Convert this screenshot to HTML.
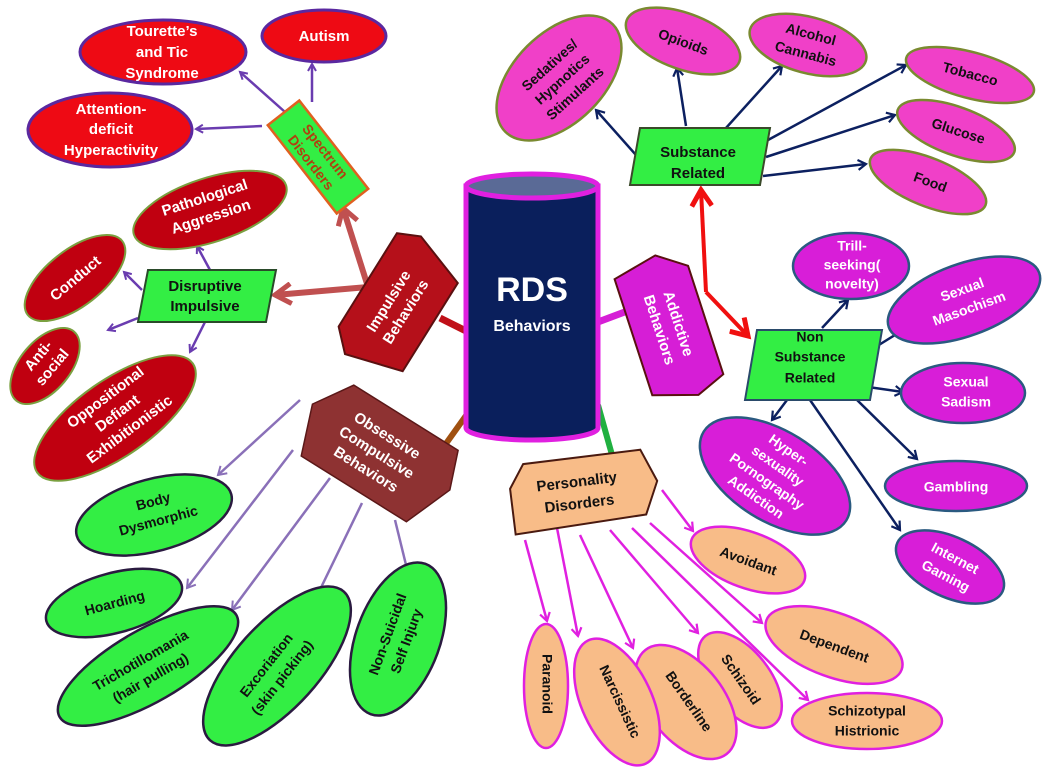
<!DOCTYPE html>
<html><head><meta charset="utf-8"><style>
html,body{margin:0;padding:0;background:#fff}
svg{display:block}
text{font-family:"Liberation Sans",sans-serif;font-weight:bold;text-anchor:middle;dominant-baseline:middle}
</style></head><body>
<svg width="1050" height="776" viewBox="0 0 1050 776" xmlns="http://www.w3.org/2000/svg">
<defs>
<marker id="mp" markerWidth="10" markerHeight="10" refX="8" refY="5" orient="auto" markerUnits="userSpaceOnUse"><path d="M1,1 L8,5 L1,9" fill="none" stroke="#6a3cb0" stroke-width="2"/></marker>
<marker id="ml" markerWidth="12" markerHeight="12" refX="9" refY="6" orient="auto" markerUnits="userSpaceOnUse"><path d="M1,1 L9,6 L1,11" fill="none" stroke="#8a70b8" stroke-width="2"/></marker>
<marker id="mn" markerWidth="12" markerHeight="12" refX="9" refY="6" orient="auto" markerUnits="userSpaceOnUse"><path d="M1,1 L9,6 L1,11" fill="none" stroke="#0c2060" stroke-width="2.2"/></marker>
<marker id="mm" markerWidth="12" markerHeight="12" refX="9" refY="6" orient="auto" markerUnits="userSpaceOnUse"><path d="M1,1 L9,6 L1,11" fill="none" stroke="#e020e0" stroke-width="2.2"/></marker>
<marker id="mr" markerWidth="24" markerHeight="24" refX="18" refY="12" orient="auto" markerUnits="userSpaceOnUse"><path d="M2,2 L18,12 L2,22" fill="none" stroke="#c05050" stroke-width="5"/></marker>
<marker id="mR" markerWidth="24" markerHeight="24" refX="18" refY="12" orient="auto" markerUnits="userSpaceOnUse"><path d="M2,2 L18,12 L2,22" fill="none" stroke="#f01010" stroke-width="5"/></marker>
</defs>

<!-- connectors from cylinder -->
<line x1="468" y1="332" x2="440" y2="318" stroke="#c01018" stroke-width="7"/>
<line x1="598" y1="322" x2="630" y2="310" stroke="#d61ed6" stroke-width="7"/>
<line x1="470" y1="410" x2="440" y2="452" stroke="#a05010" stroke-width="6"/>
<line x1="598" y1="405" x2="614" y2="462" stroke="#20b040" stroke-width="6"/>

<!-- Impulsive thick arrows -->
<line x1="368" y1="287" x2="275" y2="295" stroke="#c05050" stroke-width="6" marker-end="url(#mr)"/>
<line x1="368" y1="287" x2="343" y2="208" stroke="#c05050" stroke-width="6" marker-end="url(#mr)"/>

<!-- Spectrum arrows -->
<line x1="285" y1="112" x2="240" y2="72" stroke="#6a3cb0" stroke-width="2.5" marker-end="url(#mp)"/>
<line x1="312" y1="102" x2="312" y2="64" stroke="#6a3cb0" stroke-width="2.5" marker-end="url(#mp)"/>
<line x1="262" y1="126" x2="196" y2="129" stroke="#6a3cb0" stroke-width="2.5" marker-end="url(#mp)"/>
<!-- Disruptive arrows -->
<line x1="210" y1="270" x2="197" y2="246" stroke="#6a3cb0" stroke-width="2.5" marker-end="url(#mp)"/>
<line x1="142" y1="290" x2="124" y2="272" stroke="#6a3cb0" stroke-width="2.5" marker-end="url(#mp)"/>
<line x1="138" y1="318" x2="108" y2="330" stroke="#6a3cb0" stroke-width="2.5" marker-end="url(#mp)"/>
<line x1="205" y1="322" x2="190" y2="352" stroke="#6a3cb0" stroke-width="2.5" marker-end="url(#mp)"/>

<!-- OCD arrows -->
<line x1="300" y1="400" x2="218" y2="475" stroke="#8a70b8" stroke-width="2.5" marker-end="url(#ml)"/>
<line x1="293" y1="450" x2="187" y2="588" stroke="#8a70b8" stroke-width="2.5" marker-end="url(#ml)"/>
<line x1="330" y1="478" x2="232" y2="610" stroke="#8a70b8" stroke-width="2.5" marker-end="url(#ml)"/>
<line x1="362" y1="503" x2="315" y2="600" stroke="#8a70b8" stroke-width="2.5" marker-end="url(#ml)"/>
<line x1="395" y1="520" x2="408" y2="573" stroke="#8a70b8" stroke-width="2.5" marker-end="url(#ml)"/>

<!-- Personality arrows -->
<line x1="525" y1="540" x2="547" y2="621" stroke="#e020e0" stroke-width="2.5" marker-end="url(#mm)"/>
<line x1="557" y1="528" x2="578" y2="636" stroke="#e020e0" stroke-width="2.5" marker-end="url(#mm)"/>
<line x1="580" y1="535" x2="633" y2="648" stroke="#e020e0" stroke-width="2.5" marker-end="url(#mm)"/>
<line x1="610" y1="530" x2="698" y2="633" stroke="#e020e0" stroke-width="2.5" marker-end="url(#mm)"/>
<line x1="632" y1="528" x2="808" y2="700" stroke="#e020e0" stroke-width="2.5" marker-end="url(#mm)"/>
<line x1="650" y1="523" x2="762" y2="623" stroke="#e020e0" stroke-width="2.5" marker-end="url(#mm)"/>
<line x1="662" y1="490" x2="693" y2="531" stroke="#e020e0" stroke-width="2.5" marker-end="url(#mm)"/>

<!-- Substance arrows -->
<line x1="636" y1="155" x2="596" y2="110" stroke="#0c2060" stroke-width="2.5" marker-end="url(#mn)"/>
<line x1="686" y1="126" x2="677" y2="68" stroke="#0c2060" stroke-width="2.5" marker-end="url(#mn)"/>
<line x1="726" y1="128" x2="782" y2="66" stroke="#0c2060" stroke-width="2.5" marker-end="url(#mn)"/>
<line x1="768" y1="140" x2="906" y2="65" stroke="#0c2060" stroke-width="2.5" marker-end="url(#mn)"/>
<line x1="766" y1="157" x2="895" y2="115" stroke="#0c2060" stroke-width="2.5" marker-end="url(#mn)"/>
<line x1="763" y1="176" x2="866" y2="164" stroke="#0c2060" stroke-width="2.5" marker-end="url(#mn)"/>
<!-- Non-substance arrows -->
<line x1="822" y1="328" x2="848" y2="300" stroke="#0c2060" stroke-width="2.5" marker-end="url(#mn)"/>
<line x1="874" y1="348" x2="903" y2="330" stroke="#0c2060" stroke-width="2.5" marker-end="url(#mn)"/>
<line x1="868" y1="387" x2="903" y2="392" stroke="#0c2060" stroke-width="2.5" marker-end="url(#mn)"/>
<line x1="787" y1="400" x2="772" y2="420" stroke="#0c2060" stroke-width="2.5" marker-end="url(#mn)"/>
<line x1="855" y1="398" x2="917" y2="459" stroke="#0c2060" stroke-width="2.5" marker-end="url(#mn)"/>
<line x1="810" y1="400" x2="900" y2="530" stroke="#0c2060" stroke-width="2.5" marker-end="url(#mn)"/>

<!-- Red arrows -->
<line x1="706" y1="292" x2="701" y2="190" stroke="#f01010" stroke-width="4" marker-end="url(#mR)"/>
<line x1="706" y1="292" x2="748" y2="336" stroke="#f01010" stroke-width="4" marker-end="url(#mR)"/>

<!-- Cylinder -->
<path d="M466,186 L466,428 A66,12 0 0 0 598,428 L598,186 Z" fill="#0a1f5c" stroke="#e020e0" stroke-width="5"/>
<ellipse cx="532" cy="186" rx="66" ry="12" fill="#5a6a96" stroke="#e020e0" stroke-width="5"/>
<text x="532" y="292" fill="#fff" font-size="34">RDS</text>
<text x="532" y="327" fill="#fff" font-size="16">Behaviors</text>

<!-- Red ellipses (spectrum) -->
<g stroke="#5a28a0" stroke-width="3" fill="#ee0a14">
<ellipse cx="163" cy="52" rx="83" ry="32"/>
<ellipse cx="324" cy="36" rx="62" ry="26"/>
<ellipse cx="110" cy="130" rx="82" ry="37"/>
</g>
<g fill="#fff" font-size="15">
<text x="162" y="32">Tourette’s</text><text x="162" y="53">and Tic</text><text x="162" y="74">Syndrome</text>
<text x="324" y="37">Autism</text>
<text x="111" y="110">Attention-</text><text x="111" y="130">deficit</text><text x="111" y="151">Hyperactivity</text>
</g>

<!-- Spectrum disorders box -->
<g transform="translate(318,157) rotate(52)">
<rect x="-56" y="-20" width="112" height="40" fill="#33ee44" stroke="#e06020" stroke-width="2.5"/>
<text x="0" y="-8" fill="#b04010" font-size="14">Spectrum</text>
<text x="0" y="10" fill="#b04010" font-size="14">Disorders</text>
</g>

<!-- Dark red ellipses -->
<g stroke="#7aa040" stroke-width="2" fill="#c00010">
<ellipse cx="210" cy="210" rx="80" ry="32" transform="rotate(-18 210 210)"/>
<ellipse cx="75" cy="278" rx="60" ry="28" transform="rotate(-38 75 278)"/>
<ellipse cx="45" cy="366" rx="45" ry="25" transform="rotate(-50 45 366)"/>
<ellipse cx="115" cy="418" rx="95" ry="38" transform="rotate(-35 115 418)"/>
</g>
<g fill="#fff" font-size="15">
<g transform="translate(208,208) rotate(-18)"><text y="-10">Pathological</text><text y="10">Aggression</text></g>
<text x="76" y="279" transform="rotate(-40 76 279)">Conduct</text>
<g transform="translate(46,362) rotate(-50)"><text y="-9">Anti-</text><text y="9">social</text></g>
<g transform="translate(118,414) rotate(-37)"><text y="-20">Oppositional</text><text y="0">Defiant</text><text y="20">Exhibitionistic</text></g>
</g>

<!-- Disruptive impulsive -->
<polygon points="148,270 276,270 266,322 138,322" fill="#33ee44" stroke="#2a4a2a" stroke-width="2"/>
<text x="205" y="287" font-size="15" fill="#111">Disruptive</text>
<text x="205" y="307" font-size="15" fill="#111">Impulsive</text>

<!-- Impulsive Behaviors hexagon -->
<g transform="translate(398,307) rotate(-58)">
<polygon points="-68,-20 -48,-40 62,-40 72,-18 52,38 -52,38" fill="#b5101a" stroke="#5a1010" stroke-width="2"/>
<text x="0" y="-10" fill="#fff" font-size="15">Impulsive</text>
<text x="0" y="10" fill="#fff" font-size="15">Behaviors</text>
</g>

<!-- OCD hexagon -->
<g transform="translate(375,455) rotate(32)">
<polygon points="-80,-10 -55,-48 68,-48 82,-10 62,40 -62,40" fill="#8e3232" stroke="#5a1818" stroke-width="1.5"/>
<text x="0" y="-22" fill="#fff" font-size="15">Obsessive</text>
<text x="0" y="-2" fill="#fff" font-size="15">Compulsive</text>
<text x="0" y="18" fill="#fff" font-size="15">Behaviors</text>
</g>

<!-- Green ellipses -->
<g stroke="#2a1a40" stroke-width="2.5" fill="#33ee44">
<ellipse cx="154" cy="515" rx="80" ry="36" transform="rotate(-15 154 515)"/>
<ellipse cx="114" cy="603" rx="70" ry="30" transform="rotate(-15 114 603)"/>
<ellipse cx="148" cy="666" rx="102" ry="36" transform="rotate(-30 148 666)"/>
<ellipse cx="277" cy="666" rx="100" ry="42" transform="rotate(-48 277 666)"/>
<ellipse cx="398" cy="639" rx="42" ry="80" transform="rotate(20 398 639)"/>
</g>
<g fill="#111" font-size="14">
<g transform="translate(156,512) rotate(-15)"><text y="-10">Body</text><text y="10">Dysmorphic</text></g>
<text x="115" y="604" transform="rotate(-15 115 604)">Hoarding</text>
<g transform="translate(146,670) rotate(-30)"><text y="-10">Trichotillomania</text><text y="10">(hair pulling)</text></g>
<g transform="translate(275,672) rotate(-52)"><text y="-10">Excoriation</text><text y="10">(skin picking)</text></g>
<g transform="translate(398,638) rotate(-70)"><text y="-10">Non-Suicidal</text><text y="10">Self Injury</text></g>
</g>

<!-- Personality hexagon -->
<g transform="translate(583,492) rotate(-7)">
<polygon points="-72,-12 -56,-35 62,-35 75,-2 60,30 -72,34" fill="#f8bc88" stroke="#4a1a10" stroke-width="2"/>
<text x="-5" y="-10" fill="#111" font-size="15">Personality</text>
<text x="-5" y="12" fill="#111" font-size="15">Disorders</text>
</g>

<!-- Tan ellipses -->
<g stroke="#e020e0" stroke-width="2.5" fill="#f8bc88">
<ellipse cx="748" cy="560" rx="60" ry="28" transform="rotate(20 748 560)"/>
<ellipse cx="834" cy="645" rx="72" ry="32" transform="rotate(20 834 645)"/>
<ellipse cx="740" cy="680" rx="30" ry="56" transform="rotate(-38 740 680)"/>
<ellipse cx="686" cy="702" rx="38" ry="66" transform="rotate(-38 686 702)"/>
<ellipse cx="617" cy="702" rx="35" ry="68" transform="rotate(-25 617 702)"/>
<ellipse cx="546" cy="686" rx="22" ry="62"/>
<ellipse cx="867" cy="721" rx="75" ry="28"/>
</g>
<g fill="#111" font-size="14">
<text x="748" y="562" transform="rotate(20 748 562)">Avoidant</text>
<text x="834" y="647" transform="rotate(20 834 647)">Dependent</text>
<text x="867" y="712">Schizotypal</text><text x="867" y="732">Histrionic</text>
<text x="740" y="680" transform="rotate(55 740 680)">Schizoid</text>
<text x="688" y="702" transform="rotate(55 688 702)">Borderline</text>
<text x="619" y="702" transform="rotate(65 619 702)">Narcissistic</text>
<text x="546" y="684" transform="rotate(90 546 684)">Paranoid</text>
</g>

<!-- Addictive hexagon -->
<g transform="translate(668,327) rotate(72)">
<polygon points="-72,-10 -52,-38 62,-38 74,-8 60,36 -62,36" fill="#d61ed6" stroke="#5a1010" stroke-width="2"/>
<text x="0" y="-10" fill="#fff" font-size="15">Addictive</text>
<text x="0" y="10" fill="#fff" font-size="15">Behaviors</text>
</g>

<!-- Substance Related -->
<polygon points="640,128 770,128 760,185 630,185" fill="#33ee44" stroke="#3a4a2a" stroke-width="2"/>
<text x="698" y="153" font-size="15" fill="#111">Substance</text>
<text x="698" y="174" font-size="15" fill="#111">Related</text>

<!-- Pink ellipses -->
<g stroke="#7a8a30" stroke-width="2.5" fill="#f040c8">
<ellipse cx="559" cy="78" rx="76" ry="45" transform="rotate(-45 559 78)"/>
<ellipse cx="683" cy="41" rx="60" ry="28" transform="rotate(20 683 41)"/>
<ellipse cx="808" cy="45" rx="60" ry="28" transform="rotate(15 808 45)"/>
<ellipse cx="970" cy="75" rx="66" ry="23" transform="rotate(15 970 75)"/>
<ellipse cx="956" cy="131" rx="62" ry="24" transform="rotate(20 956 131)"/>
<ellipse cx="928" cy="182" rx="62" ry="24" transform="rotate(22 928 182)"/>
</g>
<g fill="#111" font-size="14">
<g transform="translate(563,80) rotate(-42)"><text y="-19">Sedatives/</text><text y="0">Hypnotics</text><text y="19">Stimulants</text></g>
<text x="683" y="43" transform="rotate(20 683 43)">Opioids</text>
<g transform="translate(808,45) rotate(15)"><text y="-10">Alcohol</text><text y="10">Cannabis</text></g>
<text x="970" y="75" transform="rotate(15 970 75)">Tobacco</text>
<text x="958" y="132" transform="rotate(18 958 132)">Glucose</text>
<text x="930" y="183" transform="rotate(20 930 183)">Food</text>
</g>

<!-- Non Substance Related -->
<polygon points="757,330 882,330 870,400 745,400" fill="#33ee44" stroke="#2a4a6a" stroke-width="2"/>
<text x="810" y="338" font-size="14" fill="#111">Non</text>
<text x="810" y="358" font-size="14" fill="#111">Substance</text>
<text x="810" y="379" font-size="14" fill="#111">Related</text>

<!-- Magenta ellipses -->
<g stroke="#2a5a80" stroke-width="2.5" fill="#d81ed8">
<ellipse cx="851" cy="266" rx="58" ry="33"/>
<ellipse cx="964" cy="300" rx="80" ry="36" transform="rotate(-20 964 300)"/>
<ellipse cx="963" cy="393" rx="62" ry="30"/>
<ellipse cx="775" cy="476" rx="84" ry="45" transform="rotate(32 775 476)"/>
<ellipse cx="956" cy="486" rx="71" ry="25"/>
<ellipse cx="950" cy="567" rx="58" ry="30" transform="rotate(25 950 567)"/>
</g>
<g fill="#fff" font-size="14">
<text x="852" y="247">Trill-</text><text x="852" y="266">seeking(</text><text x="852" y="285">novelty)</text>
<g transform="translate(966,300) rotate(-20)"><text y="-10">Sexual</text><text y="10">Masochism</text></g>
<text x="966" y="383">Sexual</text><text x="966" y="403">Sadism</text>
<g transform="translate(772,474) rotate(35)"><text y="-28">Hyper-</text><text y="-9">sexuality</text><text y="10">Pornography</text><text y="29">Addiction</text></g>
<text x="956" y="488">Gambling</text>
<g transform="translate(950,568) rotate(28)"><text y="-10">Internet</text><text y="10">Gaming</text></g>
</g>
</svg>
</body></html>
